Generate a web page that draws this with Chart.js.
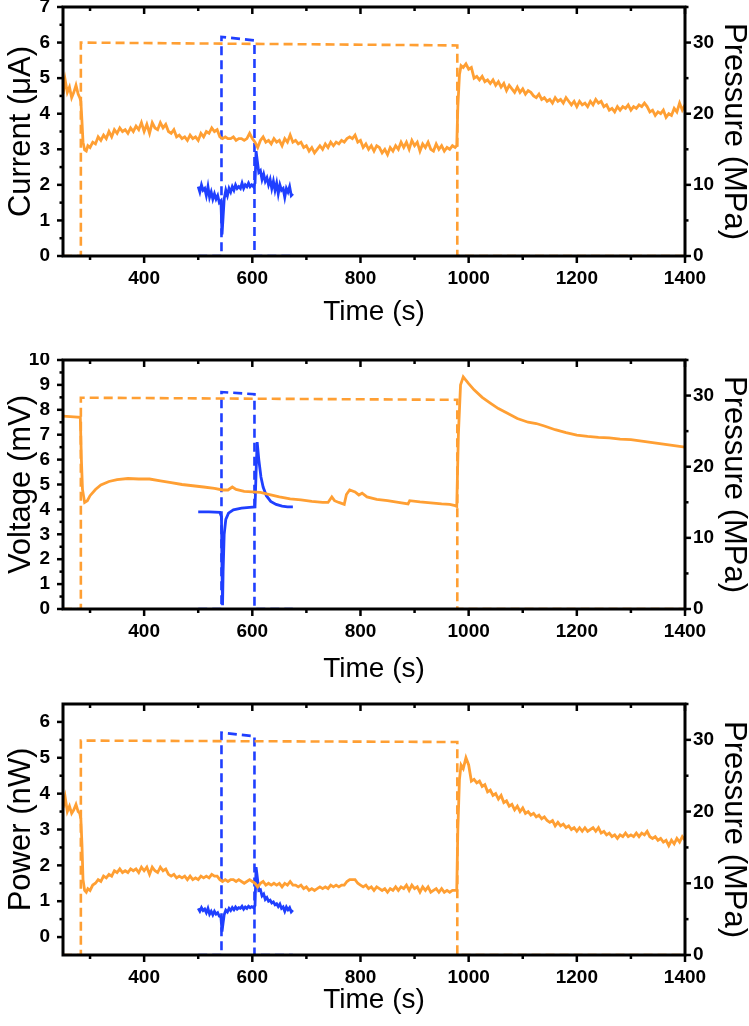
<!DOCTYPE html>
<html>
<head>
<meta charset="utf-8">
<script src="https://cdn.jsdelivr.net/npm/chart.js@4.4.1/dist/chart.umd.min.js"></script>
<style>
  html, body { margin: 0; padding: 0; background: #fff; }
  #wrap { position: relative; width: 749px; height: 1026px; }
  .panel { position: absolute; left: 0; width: 749px; }
</style>
</head>
<body>
<div id="wrap">
  <div class="panel" style="top:0px;height:340px"><canvas id="c1"></canvas></div>
  <div class="panel" style="top:353px;height:340px"><canvas id="c2"></canvas></div>
  <div class="panel" style="top:697px;height:329px"><canvas id="c3"></canvas></div>
</div>
<script>
// axis ticks
const xTicks = [400, 600, 800, 1000, 1200, 1400];
const xMinor = [300, 500, 700, 900, 1100, 1300];
const pTicks = [0, 10, 20, 30];
const pMinor = [5, 15, 25, 35];

// orange run (long trace), shared time base for current and power
const timeA = [
  250, 254, 258, 262, 266, 270, 274, 278, 281, 283,
  285, 287, 290, 293, 296, 300, 305, 310, 315, 320,
  325, 330, 335, 340, 345, 350, 355, 360, 365, 370,
  375, 380, 385, 390, 395, 400, 405, 410, 415, 420,
  425, 430, 435, 440, 445, 450, 455, 460, 465, 470,
  475, 480, 485, 490, 495, 500, 505, 510, 515, 520,
  525, 530, 535, 540, 545, 550, 555, 560, 565, 570,
  575, 580, 585, 590, 595, 600, 605, 610, 615, 620,
  625, 630, 635, 640, 645, 650, 655, 660, 665, 670,
  675, 680, 685, 690, 695, 700, 705, 710, 715, 720,
  725, 730, 735, 740, 745, 750, 755, 760, 765, 770,
  775, 780, 785, 790, 795, 800, 805, 810, 815, 820,
  825, 830, 835, 840, 845, 850, 855, 860, 865, 870,
  875, 880, 885, 890, 895, 900, 905, 910, 915, 920,
  925, 930, 935, 940, 945, 950, 955, 960, 965, 970,
  975, 978, 980, 983, 986, 990, 995, 1000, 1005, 1010,
  1015, 1020, 1025, 1030, 1035, 1040, 1045, 1050, 1055, 1060,
  1065, 1070, 1075, 1080, 1085, 1090, 1095, 1100, 1105, 1110,
  1115, 1120, 1125, 1130, 1135, 1140, 1145, 1150, 1155, 1160,
  1165, 1170, 1175, 1180, 1185, 1190, 1195, 1200, 1205, 1210,
  1215, 1220, 1225, 1230, 1235, 1240, 1245, 1250, 1255, 1260,
  1265, 1270, 1275, 1280, 1285, 1290, 1295, 1300, 1305, 1310,
  1315, 1320, 1325, 1330, 1335, 1340, 1345, 1350, 1355, 1360,
  1365, 1370, 1375, 1380, 1385, 1390, 1395, 1400
];
const currentA = [
  4.55, 4.95, 4.6, 4.75, 4.45, 4.6, 4.8, 4.55, 4.45, 4.35,
  3.8, 3.2, 2.98, 2.95, 3.1, 3.05, 3.2, 3.15, 3.35, 3.25,
  3.4, 3.3, 3.5, 3.35, 3.55, 3.45, 3.6, 3.5, 3.55, 3.45,
  3.6, 3.5, 3.65, 3.55, 3.75, 3.5, 3.7, 3.45, 3.75, 3.6,
  3.55, 3.75, 3.6, 3.7, 3.5, 3.45, 3.55, 3.35, 3.4, 3.3,
  3.35, 3.25, 3.4, 3.3, 3.35, 3.25, 3.45, 3.35, 3.5, 3.45,
  3.6, 3.5, 3.55, 3.35, 3.3, 3.35, 3.3, 3.3, 3.35, 3.25,
  3.3, 3.3, 3.25, 3.3, 3.45, 3.3, 3.2, 3.05, 3.25, 3.35,
  3.2, 3.25, 3.15, 3.3, 3.2, 3.25, 3.1, 3.3, 3.2, 3.4,
  3.2, 3.25, 3.15, 3.2, 3.05, 3.1, 2.95, 3.05, 2.9, 3.0,
  3.1, 3.0, 3.15, 3.05, 3.2, 3.1, 3.2, 3.15, 3.25, 3.2,
  3.3, 3.35, 3.3, 3.4, 3.2, 3.25, 3.05, 3.15, 3.0, 3.1,
  2.95, 3.1, 3.05, 2.9, 3.0, 2.85, 3.05, 2.95, 3.1, 3.0,
  3.2, 3.05, 3.2, 3.0, 3.25, 3.1, 3.2, 2.95, 3.15, 3.05,
  3.2, 3.0, 2.95, 3.15, 3.0, 3.1, 2.95, 3.05, 3.0, 3.1,
  3.05, 3.1, 4.2, 5.1, 5.35, 5.3, 5.4, 5.25, 5.3, 5.0,
  5.05, 4.95, 5.05, 4.9, 4.95, 4.85, 4.95, 4.8, 4.9, 4.75,
  4.85, 4.65, 4.8, 4.7, 4.6, 4.75, 4.6, 4.7, 4.55, 4.65,
  4.6, 4.5, 4.45, 4.55, 4.4, 4.45, 4.35, 4.4, 4.3, 4.45,
  4.35, 4.4, 4.3, 4.45, 4.35, 4.25, 4.35, 4.2, 4.35, 4.25,
  4.3, 4.2, 4.35, 4.25, 4.4, 4.3, 4.35, 4.2, 4.25, 4.1,
  4.15, 4.05, 4.2, 4.1, 4.2, 4.15, 4.25, 4.1, 4.2, 4.15,
  4.25, 4.2, 4.3, 4.2, 4.05, 4.1, 3.95, 4.05, 4.0, 4.1,
  3.9, 4.0, 3.95, 4.15, 4.05, 4.3, 4.1, 4.25
];
const powerA = [
  3.6, 3.9, 3.5, 3.65, 3.45, 3.55, 3.7, 3.5, 3.45, 3.3,
  2.6, 1.6, 1.3, 1.25, 1.35, 1.3, 1.45, 1.5, 1.6, 1.55,
  1.7, 1.65, 1.75, 1.7, 1.85, 1.8, 1.9, 1.8, 1.85, 1.8,
  1.9, 1.85, 1.9, 1.8, 1.95, 1.85, 1.95, 1.75, 1.95, 1.85,
  1.8, 1.95, 1.85, 1.9, 1.75, 1.7, 1.75, 1.65, 1.7, 1.65,
  1.7, 1.6, 1.7, 1.6, 1.65, 1.6, 1.7, 1.65, 1.7, 1.65,
  1.75, 1.7, 1.7, 1.6, 1.55, 1.6, 1.55, 1.6, 1.6, 1.55,
  1.6, 1.55, 1.5, 1.55, 1.6, 1.55, 1.5, 1.4, 1.5, 1.55,
  1.45, 1.5, 1.45, 1.5, 1.45, 1.5, 1.4, 1.5, 1.45, 1.55,
  1.45, 1.45, 1.4, 1.45, 1.35, 1.4, 1.3, 1.35, 1.3, 1.35,
  1.4, 1.35, 1.4, 1.35, 1.45, 1.4, 1.45, 1.4, 1.45, 1.45,
  1.55, 1.6, 1.6, 1.6, 1.5, 1.45, 1.4, 1.45, 1.35, 1.4,
  1.3, 1.4, 1.35, 1.3, 1.35, 1.25, 1.35, 1.3, 1.4, 1.3,
  1.4, 1.35, 1.45, 1.3, 1.45, 1.35, 1.4, 1.25, 1.4, 1.3,
  1.4, 1.25, 1.3, 1.35, 1.25, 1.35, 1.25, 1.3, 1.25, 1.3,
  1.3, 1.3, 3.0, 4.4, 4.8, 4.7, 5.0, 4.8, 4.35, 4.4,
  4.3, 4.35, 4.2, 4.25, 4.05, 4.1, 3.95, 4.0, 3.85, 3.95,
  3.75, 3.8, 3.65, 3.7, 3.55, 3.65, 3.5, 3.6, 3.45, 3.5,
  3.4, 3.45, 3.35, 3.4, 3.3, 3.35, 3.25, 3.2, 3.25, 3.1,
  3.2, 3.1, 3.15, 3.05, 3.1, 3.0, 3.05, 2.95, 3.05, 2.95,
  3.05, 2.95, 3.0, 3.05, 2.95, 3.05, 2.9, 2.95, 2.85, 2.9,
  2.8, 2.85, 2.75, 2.85, 2.8, 2.9, 2.8, 2.85, 2.8, 2.9,
  2.8, 2.9, 2.85, 2.95, 2.8, 2.75, 2.8, 2.7, 2.75, 2.65,
  2.7, 2.55, 2.7, 2.6, 2.75, 2.65, 2.8, 2.7
];

// orange voltage trace (smooth)
const timeV = [
  250, 270, 282, 284, 286, 290, 295, 300, 310, 320,
  335, 350, 370, 390, 410, 430, 450, 470, 490, 510,
  530, 545, 555, 563, 570, 585, 600, 615, 630, 650,
  670, 690, 710, 730, 740, 747, 752, 760, 770, 774,
  780, 790, 797, 803, 812, 830, 850, 870, 888, 891,
  910, 930, 950, 965, 975, 978, 981, 985, 990, 1000,
  1010, 1025, 1040, 1055, 1070, 1090, 1110, 1125, 1140, 1160,
  1180, 1200, 1220, 1240, 1260, 1280, 1300, 1320, 1340, 1360,
  1380, 1400
];
const voltageA = [
  7.75, 7.72, 7.7, 6.0, 4.8, 4.28, 4.35, 4.55, 4.8, 4.98,
  5.12, 5.2, 5.24, 5.22, 5.22, 5.15, 5.08, 5.0, 4.95, 4.9,
  4.84, 4.78, 4.78, 4.9, 4.8, 4.72, 4.7, 4.68, 4.6, 4.5,
  4.42, 4.38, 4.32, 4.28, 4.28, 4.5, 4.35, 4.28, 4.2, 4.6,
  4.78, 4.7, 4.58, 4.65, 4.5, 4.4, 4.35, 4.28, 4.22, 4.35,
  4.3, 4.26, 4.22, 4.2, 4.15, 4.12, 7.0, 9.0, 9.32, 9.05,
  8.8, 8.5, 8.27, 8.05, 7.88, 7.65, 7.5, 7.45, 7.35, 7.2,
  7.08, 6.98, 6.93, 6.89, 6.87, 6.82, 6.8, 6.74, 6.68, 6.62,
  6.56, 6.5
];

// blue run (short trace)
const timeB = [
  500, 503, 506, 509, 512, 515, 518, 521, 524, 527,
  530, 533, 536, 539, 542, 544, 546, 548, 551, 554,
  557, 560, 563, 566, 569, 572, 575, 578, 581, 584,
  587, 590, 593, 596, 599, 602, 605, 607, 609, 612,
  615, 618, 621, 624, 627, 630, 633, 636, 639, 642,
  645, 648, 651, 654, 657, 660, 663, 666, 669, 672,
  675
];
const currentB = [
  1.95, 1.8, 2.0, 1.85, 1.9, 1.7, 1.95, 1.65, 1.8, 1.6,
  1.75, 1.6, 1.7, 1.5, 1.55, 0.6, 1.1, 1.6, 1.85, 1.7,
  1.9, 1.8, 1.95, 1.85, 2.0, 1.9, 1.95, 1.9, 2.05, 1.9,
  2.0, 1.95, 2.05, 1.95, 2.0, 1.95, 2.05, 2.95, 2.7, 2.35,
  2.4, 2.15, 2.3, 2.1, 2.2, 2.0, 2.15, 1.9, 2.1, 1.85,
  2.05, 1.75, 2.0, 1.85, 1.9, 1.65, 1.9, 1.8, 1.95, 1.7,
  1.75
];
const powerB = [
  0.8, 0.72, 0.82, 0.74, 0.78, 0.68, 0.8, 0.64, 0.72, 0.62,
  0.72, 0.64, 0.68, 0.58, 0.56, 0.15, 0.4, 0.62, 0.75, 0.7,
  0.8, 0.74, 0.82, 0.76, 0.84, 0.78, 0.82, 0.8, 0.86, 0.78,
  0.84, 0.8, 0.86, 0.82, 0.85, 0.82, 0.88, 1.95, 1.7, 1.3,
  1.32, 1.15, 1.2, 1.05, 1.1, 1.0, 1.03, 0.95, 0.98, 0.9,
  0.93, 0.85, 0.92, 0.8, 0.84, 0.72, 0.84, 0.76, 0.82, 0.7,
  0.75
];
const timeBV = [500, 520, 540, 543, 544, 545, 546, 548, 551, 556, 565, 580, 595, 605, 607, 609, 612, 616, 620, 626, 634, 644, 655, 665, 675];
const voltageB = [3.9, 3.9, 3.88, 3.7, 1.5, 0.15, 1.5, 3.0, 3.6, 3.85, 3.98, 4.05, 4.08, 4.1, 5.5, 6.7, 6.0, 5.3, 4.9, 4.55, 4.32, 4.2, 4.13, 4.1, 4.1];

// pressure steps (right axis)
const timePA = [250, 283, 283, 979, 979, 1400];
const pressA1 = [0, 0, 30.0, 29.6, 0, 0];
const pressA2 = [0, 0, 29.7, 29.4, 0, 0];
const pressA3 = [0, 0, 29.9, 29.7, 0, 0];
const timePB = [500, 543, 543, 604, 604, 675];
const pressB1 = [0, 0, 30.8, 30.3, 0, 0];
const pressB2 = [0, 0, 30.5, 30.2, 0, 0];
const pressB3 = [0, 0, 31.0, 30.5, 0, 0];

const ORANGE = '#FF9F33';
const BLUE = '#1F3FFF';

Chart.defaults.font.family = "'Liberation Sans', Arial, sans-serif";
Chart.defaults.color = '#000';

function pts(xs, ys) {
  return xs.map((x, i) => ({ x: x, y: ys[i] }));
}

// frame with inward top ticks and outward ticks elsewhere
const frameTicks = {
  id: 'frameTicks',
  afterDatasetsDraw(chart, args, opts) {
    const { ctx, chartArea: a, scales } = chart;
    const line = (x1, y1, x2, y2) => {
      ctx.beginPath(); ctx.moveTo(x1, y1); ctx.lineTo(x2, y2); ctx.stroke();
    };
    ctx.save();
    ctx.strokeStyle = '#000';
    ctx.lineWidth = 2.5;
    xTicks.forEach(v => {
      const x = scales.x.getPixelForValue(v);
      line(x, a.bottom, x, a.bottom + 7);
      line(x, a.top, x, a.top + 7);
    });
    xMinor.forEach(v => {
      const x = scales.x.getPixelForValue(v);
      line(x, a.bottom, x, a.bottom + 4);
      line(x, a.top, x, a.top + 4);
    });
    (opts.yMajor || []).forEach(v => {
      const y = scales.y.getPixelForValue(v);
      line(a.left - 6, y, a.left, y);
    });
    (opts.yMinor || []).forEach(v => {
      const y = scales.y.getPixelForValue(v);
      line(a.left - 3.5, y, a.left, y);
    });
    pTicks.forEach(v => {
      const y = scales.p.getPixelForValue(v);
      line(a.right, y, a.right + 6, y);
    });
    pMinor.forEach(v => {
      const y = scales.p.getPixelForValue(v);
      line(a.right, y, a.right + 3.5, y);
    });
    ctx.lineWidth = 3;
    ctx.strokeRect(a.left, a.top, a.right - a.left, a.bottom - a.top);
    ctx.restore();
  }
};

function makePanel(id, opt) {
  const tickFont = { size: 19, weight: 'bold', lineHeight: 1 };
  const titleFont = { size: 28, lineHeight: 1 };
  const yTitleFont = { size: 31, lineHeight: 1 };
  const plain = v => String(v);
  new Chart(document.getElementById(id), {
    type: 'line',
    data: {
      datasets: [
        { data: pts(opt.tA, opt.yA), borderColor: ORANGE, borderWidth: 2.8, yAxisID: 'y' },
        { data: pts(timePA, opt.pA), borderColor: ORANGE, borderWidth: 2.6, borderDash: [9, 5], yAxisID: 'p' },
        { data: pts(timePB, opt.pB), borderColor: BLUE, borderWidth: 2.6, borderDash: [9, 5], yAxisID: 'p' },
        { data: pts(opt.tB, opt.yB), borderColor: BLUE, borderWidth: 2.8, yAxisID: 'y' }
      ]
    },
    options: {
      responsive: true,
      maintainAspectRatio: false,
      animation: false,
      layout: { padding: { top: 7, left: 0, right: 0, bottom: 0 } },
      elements: { point: { radius: 0 }, line: { tension: 0 } },
      plugins: {
        legend: { display: false },
        tooltip: { enabled: false },
        frameTicks: { yMajor: opt.yMajor, yMinor: opt.yMinor }
      },
      scales: {
        x: {
          type: 'linear',
          min: 250,
          max: 1400,
          grid: { display: false, drawTicks: false },
          border: { display: false },
          afterBuildTicks: s => { s.ticks = xTicks.map(v => ({ value: v })); },
          ticks: { font: tickFont, padding: 13, maxRotation: 0, autoSkip: false, callback: plain },
          title: { display: true, text: 'Time (s)', font: titleFont, padding: { top: 0, bottom: opt.titleBottom } },
          afterFit: s => { s.height = opt.xH; s.paddingLeft = 0; s.paddingRight = 0; }
        },
        y: {
          position: 'left',
          min: opt.yMin,
          max: opt.yMax,
          grid: { display: false, drawTicks: false },
          border: { display: false },
          afterBuildTicks: s => { s.ticks = opt.yMajor.map(v => ({ value: v })); },
          ticks: { font: tickFont, padding: 13, autoSkip: false, callback: plain },
          title: { display: true, text: opt.yTitle, font: yTitleFont, padding: { top: 6, bottom: 0 } },
          afterFit: s => { s.width = 63; s.paddingTop = 0; s.paddingBottom = 0; }
        },
        p: {
          position: 'right',
          min: 0,
          max: 35,
          grid: { display: false, drawTicks: false },
          border: { display: false },
          afterBuildTicks: s => { s.ticks = pTicks.map(v => ({ value: v })); },
          ticks: { font: tickFont, padding: 8, autoSkip: false, callback: plain },
          title: { display: true, text: 'Pressure (MPa)', font: yTitleFont, padding: { top: 0, bottom: 0 } },
          afterFit: s => { s.width = 64; s.paddingTop = 0; s.paddingBottom = 0; }
        }
      }
    },
    plugins: [frameTicks]
  });
}

makePanel('c1', {
  tA: timeA, yA: currentA, tB: timeB, yB: currentB, pA: pressA1, pB: pressB1,
  yMin: 0, yMax: 7, yTitle: 'Current (μA)',
  yMajor: [0, 1, 2, 3, 4, 5, 6, 7],
  yMinor: [0.5, 1.5, 2.5, 3.5, 4.5, 5.5, 6.5],
  xH: 84, titleBottom: 14
});
makePanel('c2', {
  tA: timeV, yA: voltageA, tB: timeBV, yB: voltageB, pA: pressA2, pB: pressB2,
  yMin: 0, yMax: 10, yTitle: 'Voltage (mV)',
  yMajor: [0, 1, 2, 3, 4, 5, 6, 7, 8, 9, 10],
  yMinor: [0.5, 1.5, 2.5, 3.5, 4.5, 5.5, 6.5, 7.5, 8.5, 9.5],
  xH: 84, titleBottom: 10
});
makePanel('c3', {
  tA: timeA, yA: powerA, tB: timeB, yB: powerB, pA: pressA3, pB: pressB3,
  yMin: -0.5, yMax: 6.5, yTitle: 'Power (nW)',
  yMajor: [0, 1, 2, 3, 4, 5, 6],
  yMinor: [0.5, 1.5, 2.5, 3.5, 4.5, 5.5],
  xH: 71, titleBottom: 12
});
</script>
</body>
</html>
